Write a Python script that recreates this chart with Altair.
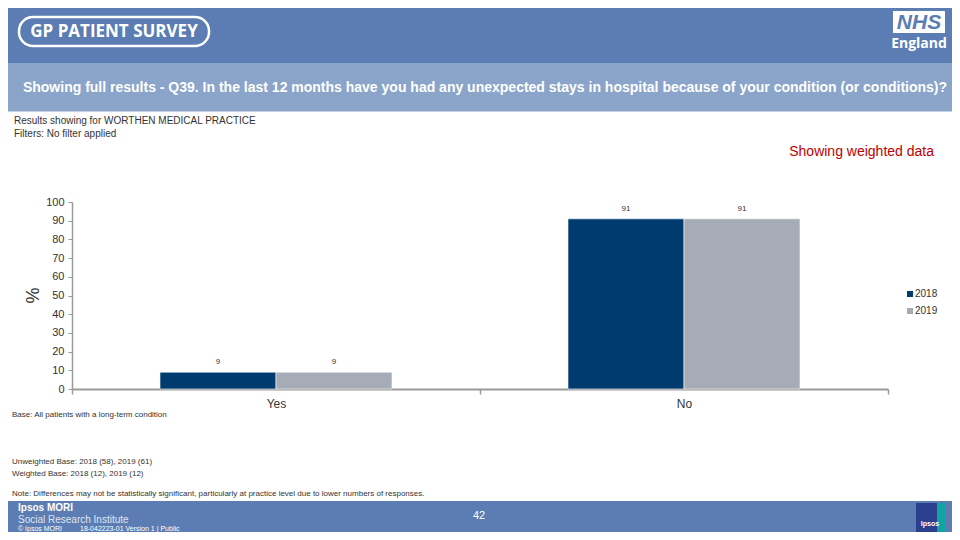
import altair as alt
import pandas as pd

# ---- data ----
answers = ["Yes", "No"]
years = ["2018", "2019"]
values_2018 = [9, 91]
values_2019 = [9, 91]
y_ticks = [0, 10, 20, 30, 40, 50, 60, 70, 80, 90, 100]

rows = []
for i, a in enumerate(answers):
    rows.append({"Answer": a, "Year": years[0], "Percent": values_2018[i]})
    rows.append({"Answer": a, "Year": years[1], "Percent": values_2019[i]})
df = pd.DataFrame(rows)

FONT = "Liberation Sans"
HEADER = "#5b7db3"
LIGHT = "#8aa4ca"
TXT = "#333333"
one = pd.DataFrame({"k": [0]})


def rect(x, x2, y, y2, color, **kw):
    return alt.Chart(one).mark_rect(color=color, **kw).encode(
        x=alt.value(x), x2=alt.value(x2), y=alt.value(y), y2=alt.value(y2)
    )


def label(text, x, y, size, color=TXT, align="left", weight="normal", **kw):
    return alt.Chart(one).mark_text(
        text=text, align=align, baseline="middle", fontSize=size, color=color,
        fontWeight=weight, font=kw.pop("font", FONT), **kw
    ).encode(x=alt.value(x), y=alt.value(y))


x_enc = alt.X(
    "Answer:N", sort=answers,
    scale=alt.Scale(paddingInner=0, paddingOuter=0),
    axis=alt.Axis(title=None, labelAngle=0, labelFontSize=12, labelColor=TXT,
                  labelFont=FONT, labelPadding=4, tickBand="extent", tickSize=5,
                  tickColor="#999999", domainColor="#999999", domainWidth=2,
                  tickWidth=1.5),
)
xo_enc = alt.XOffset("Year:N", sort=years,
                     scale=alt.Scale(paddingInner=0, paddingOuter=0.7586))
y_enc = alt.Y(
    "Percent:Q", scale=alt.Scale(domain=[0, 100]),
    axis=alt.Axis(values=y_ticks, title="%", grid=False, labelFontSize=11,
                  labelColor=TXT, labelFont=FONT, labelPadding=4, tickSize=4,
                  labelOverlap=False,
                  tickColor="#999999", domainColor="#999999", domainWidth=1.5,
                  titleFontSize=18, titleFont=FONT, titleColor=TXT,
                  titleFontWeight="normal", titleX=-39, titleY=93,
                  titleAlign="center", titleBaseline="middle"),
)

bars = alt.Chart(df).mark_bar(stroke="white", strokeWidth=0.6).encode(
    x=x_enc, xOffset=xo_enc, y=y_enc,
    color=alt.Color(
        "Year:N", scale=alt.Scale(domain=years, range=["#003b6f", "#a5acb5"]),
        legend=alt.Legend(title=None, orient="none", legendX=833, legendY=87,
                          symbolType="square", symbolSize=36, labelFontSize=10,
                          labelFont=FONT, labelColor=TXT, rowPadding=7,
                          padding=0, symbolStrokeWidth=0, labelOffset=0),
    ),
)

bar_text = alt.Chart(df).mark_text(
    baseline="bottom", dy=-6, fontSize=8, color=TXT, font=FONT
).encode(x=x_enc, xOffset=xo_enc, y=y_enc, text="Percent:Q")

layers = [
    # header bands
    rect(-64, 880, -194, -139, HEADER),
    rect(-64, 880, -139, -90.5, LIGHT),
    # footer band
    rect(-64, 880, 299, 330, HEADER),
    # GP Patient Survey logo
    rect(-53, 137, -185, -156, "white", fillOpacity=0, stroke="white",
         strokeWidth=2.5, cornerRadius=14),
    label("GP PATIENT SURVEY", 42, -170, 17, color="white", align="center",
          weight="bold", font="Open Sans"),
    # NHS England logo
    rect(821, 873, -191, -169, "white"),
    label("NHS", 847, -179.5, 21, color=HEADER, align="center", weight="bold",
          fontStyle="italic"),
    label("England", 847, -158, 14, color="white", align="center", weight="bold",
          font="Open Sans"),
    # question title
    label("Showing full results - Q39.  In the last 12 months have you had any unexpected stays in hospital because of your condition (or conditions)?",
          413, -114, 14, color="white", align="center", weight="bold"),
    label("Results showing for WORTHEN MEDICAL PRACTICE", -58, -81, 10),
    label("Filters: No filter applied", -58, -68, 10),
    label("Showing weighted data", 862, -50, 14, color="#c00000", align="right"),
    # base notes
    label("Base: All patients with a long-term condition", -60, 213, 8),
    label("Unweighted Base: 2018 (58), 2019 (61)", -60, 260, 8),
    label("Weighted Base: 2018 (12), 2019 (12)", -60, 272, 8),
    label("Note: Differences may not be statistically significant, particularly at practice level due to lower numbers of responses.",
          -60, 292, 8),
    # footer texts
    label("Ipsos MORI", -54, 306, 10, color="white", weight="bold"),
    label("Social Research Institute", -54, 318, 10, color="#dfe6f2"),
    label("\u00a9 Ipsos MORI", -54, 327, 7, color="white"),
    label("18-042223-01 Version 1 | Public", 8, 327, 7, color="white"),
    label("42", 407, 314, 11, color="white", align="center"),
    # Ipsos logo
    rect(844, 865, 301, 330, "#2c3f8f"),
    rect(865, 873, 301, 330, "#12a3a3"),
    label("Ipsos", 858, 322, 7, color="white", align="center", weight="bold"),
    bars,
    bar_text,
]

chart = alt.layer(*layers).properties(
    width=816, height=187,
    autosize=alt.AutoSizeParams(type="none"),
    padding={"left": 64, "top": 194, "right": 64, "bottom": 143},
    background="white",
).configure_view(strokeWidth=0)

chart.save("out.html", embed_options={"renderer": "svg", "actions": False})
